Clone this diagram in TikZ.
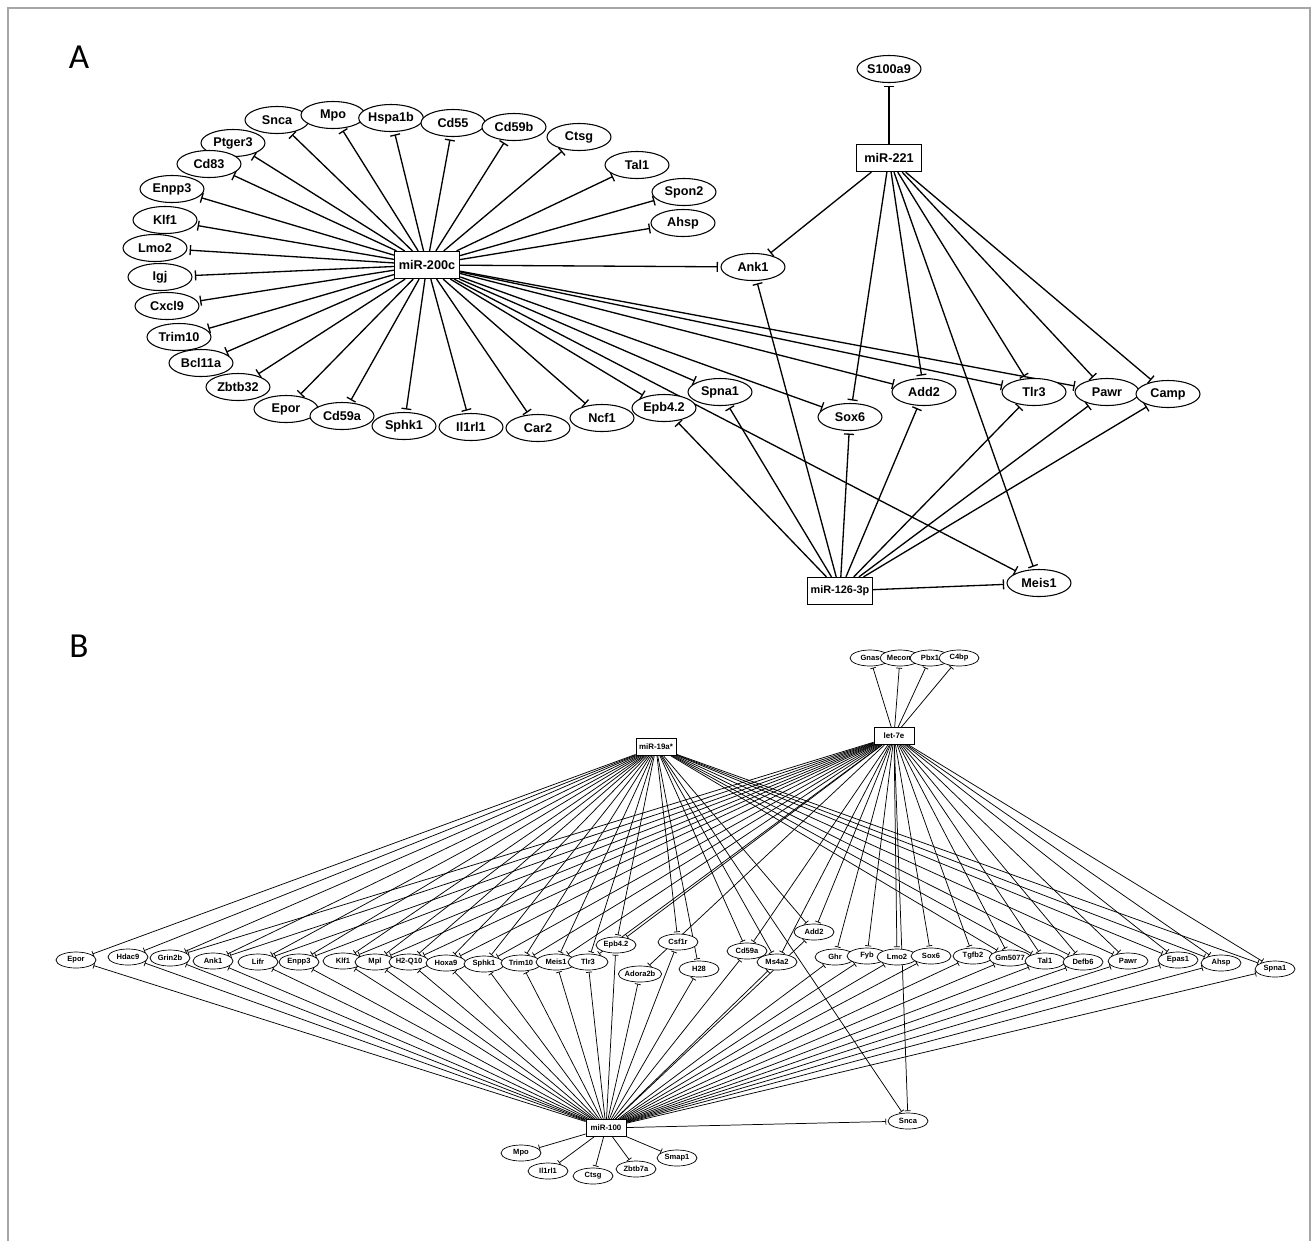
\documentclass[tikz,border=0pt]{standalone}
\usepackage{fontspec}
\setmainfont{Liberation Sans}
\newfontfamily\panelfont{Carlito}
\usetikzlibrary{arrows.meta,shapes.geometric,backgrounds}

\begin{document}
\begin{tikzpicture}[x=0.2mm,y=-0.2mm,
	gene/.style={draw,ellipse,fill=white,line width=0.6pt,inner sep=0pt,minimum width=12.8mm,minimum height=5.4mm,font=\fontsize{7.2}{8}\selectfont\bfseries},
	mir/.style={draw,rectangle,fill=white,line width=0.7pt,inner sep=0pt,minimum width=13mm,minimum height=5.4mm,font=\fontsize{7.2}{8}\selectfont\bfseries},
	sgene/.style={gene,line width=0.4pt,minimum width=8mm,minimum height=3.2mm,font=\fontsize{4.3}{5}\selectfont\bfseries},
	smir/.style={mir,line width=0.45pt,minimum width=8mm,minimum height=3.4mm,font=\fontsize{4.5}{5}\selectfont\bfseries},
	inh/.style={-{Bar[width=2mm]},line width=0.75pt,shorten >=0.5mm},
	sinh/.style={-{Bar[width=1.2mm]},line width=0.42pt,shorten >=0.3mm},
	panel/.style={font=\panelfont\fontsize{20}{20}\selectfont}]
	\useasboundingbox (0,0) rectangle (1315,1241);
	\draw[gray!70,line width=0.45mm] (8,1241) -- (8,8) -- (1310,8) -- (1310,1241);
	\node[panel] (labA) at (79,57) {A};
	\node[panel] (labB) at (79,646) {B};

	\node[mir] (m200) at (427,265) {miR-200c};
	\node[mir] (m221) at (889,158) {miR-221};
	\node[mir,font=\fontsize{6.2}{7}\selectfont\bfseries] (m126) at (840,591) {miR-126-3p};
	\node[gene] (aS100a9) at (889,69) {S100a9};
	\node[gene] (aSnca) at (277,120) {Snca};
	\node[gene] (aMpo) at (333,115) {Mpo};
	\node[gene] (aHspa1b) at (391,118) {Hspa1b};
	\node[gene] (aCd55) at (453,123) {Cd55};
	\node[gene] (aCd59b) at (514,127) {Cd59b};
	\node[gene] (aCtsg) at (579,137) {Ctsg};
	\node[gene] (aPtger3) at (233,143) {Ptger3};
	\node[gene] (aCd83) at (209,164) {Cd83};
	\node[gene] (aTal1) at (637,165) {Tal1};
	\node[gene] (aSpon2) at (684,192) {Spon2};
	\node[gene] (aAhsp) at (683,223) {Ahsp};
	\node[gene] (aEnpp3) at (172,189) {Enpp3};
	\node[gene] (aKlf1) at (165,220) {Klf1};
	\node[gene] (aLmo2) at (155,248) {Lmo2};
	\node[gene] (aIgj) at (160,277) {Igj};
	\node[gene] (aCxcl9) at (167,306) {Cxcl9};
	\node[gene] (aTrim10) at (179,337) {Trim10};
	\node[gene] (aBcl11a) at (201,363) {Bcl11a};
	\node[gene] (aZbtb32) at (238,387) {Zbtb32};
	\node[gene] (aEpor) at (286,409) {Epor};
	\node[gene] (aCd59a) at (342,416) {Cd59a};
	\node[gene] (aSphk1) at (404,426) {Sphk1};
	\node[gene] (aIl1rl1) at (471,427) {Il1rl1};
	\node[gene] (aCar2) at (538,428) {Car2};
	\node[gene] (aNcf1) at (602,418) {Ncf1};
	\node[gene] (aEpb) at (664,408) {Epb4.2};
	\node[gene] (aAnk1) at (753,267) {Ank1};
	\node[gene] (aSpna1) at (720,392) {Spna1};
	\node[gene] (aSox6) at (850,417) {Sox6};
	\node[gene] (aAdd2) at (924,392) {Add2};
	\node[gene] (aTlr3) at (1034,392) {Tlr3};
	\node[gene] (aPawr) at (1107,392) {Pawr};
	\node[gene] (aCamp) at (1168,394) {Camp};
	\node[gene] (aMeis1) at (1039,583) {Meis1};

	\node[smir] (m19) at (656,747) {miR-19a*};
	\node[smir] (let7e) at (894,736) {let-7e};
	\node[smir] (m100) at (606,1128) {miR-100};
	\node[sgene] (bGnas) at (870,658) {Gnas};
	\node[sgene] (bMecom) at (900,658) {Mecom};
	\node[sgene] (bPbx1) at (930,658) {Pbx1};
	\node[sgene] (bC4bp) at (959,658) {C4bp};
	\node[sgene] (bEpor) at (76,960) {Epor};
	\node[sgene] (bHdac9) at (128,957) {Hdac9};
	\node[sgene] (bGrin2b) at (170,958) {Grin2b};
	\node[sgene] (bAnk1) at (213,961) {Ank1};
	\node[sgene] (bLifr) at (258,962) {Lifr};
	\node[sgene] (bEnpp3) at (299,962) {Enpp3};
	\node[sgene] (bKlf1) at (343,961) {Klf1};
	\node[sgene] (bMpl) at (375,962) {Mpl};
	\node[sgene] (bH2Q10) at (409,962) {H2-Q10};
	\node[sgene] (bHoxa9) at (446,963) {Hoxa9};
	\node[sgene] (bSphk1) at (484,964) {Sphk1};
	\node[sgene] (bTrim10) at (521,963) {Trim10};
	\node[sgene] (bMeis1) at (556,962) {Meis1};
	\node[sgene] (bTlr3) at (588,962) {Tlr3};
	\node[sgene] (bEpb) at (616,945) {Epb4.2};
	\node[sgene] (bCsf1r) at (678,942) {Csf1r};
	\node[sgene] (bAdora2b) at (640,974) {Adora2b};
	\node[sgene] (bH28) at (699,969) {H28};
	\node[sgene] (bCd59a) at (747,951) {Cd59a};
	\node[sgene] (bMs4a2) at (777,962) {Ms4a2};
	\node[sgene] (bAdd2) at (814,932) {Add2};
	\node[sgene] (bGhr) at (835,957) {Ghr};
	\node[sgene] (bFyb) at (867,956) {Fyb};
	\node[sgene] (bLmo2) at (897,957) {Lmo2};
	\node[sgene] (bSox6) at (931,956) {Sox6};
	\node[sgene] (bTgfb2) at (973,956) {Tgfb2};
	\node[sgene] (bGm5077) at (1010,958) {Gm5077};
	\node[sgene] (bTal1) at (1045,961) {Tal1};
	\node[sgene] (bDefb6) at (1083,962) {Defb6};
	\node[sgene] (bPawr) at (1128,961) {Pawr};
	\node[sgene] (bEpas1) at (1178,960) {Epas1};
	\node[sgene] (bAhsp) at (1221,963) {Ahsp};
	\node[sgene] (bSpna1) at (1275,969) {Spna1};
	\node[sgene] (bSnca) at (908,1121) {Snca};
	\node[sgene] (bMpo) at (521,1153) {Mpo};
	\node[sgene] (bIl1rl1) at (548,1171) {Il1rl1};
	\node[sgene] (bCtsg) at (593,1176) {Ctsg};
	\node[sgene] (bZbtb7a) at (636,1169) {Zbtb7a};
	\node[sgene] (bSmap1) at (677,1158) {Smap1};

	\begin{scope}[on background layer]
		\foreach \t in {aSnca,aMpo,aHspa1b,aCd55,aCd59b,aCtsg,aPtger3,aCd83,aTal1,aSpon2,aAhsp,aEnpp3,aKlf1,aLmo2,aIgj,aCxcl9,aTrim10,aBcl11a,aZbtb32,aEpor,aCd59a,aSphk1,aIl1rl1,aCar2,aNcf1,aEpb,aAnk1,aSpna1,aSox6,aAdd2,aTlr3,aPawr,aMeis1}
			\draw[inh] (m200) -- (\t);
		\foreach \t in {aS100a9,aAnk1,aSox6,aAdd2,aTlr3,aPawr,aCamp,aMeis1}
			\draw[inh] (m221) -- (\t);
		\foreach \t in {aAnk1,aEpb,aSpna1,aSox6,aAdd2,aTlr3,aPawr,aCamp,aMeis1}
			\draw[inh] (m126) -- (\t);
		\foreach \t in {bEpor,bHdac9,bGrin2b,bAnk1,bLifr,bEnpp3,bKlf1,bMpl,bH2Q10,bHoxa9,bSphk1,bTrim10,bMeis1,bTlr3,bEpb,bCsf1r,bH28,bCd59a,bMs4a2,bAdd2,bSnca,bGm5077,bTal1,bDefb6,bPawr,bEpas1,bAhsp,bSpna1}
			\draw[sinh] (m19) -- (\t);
		\foreach \t in {bGnas,bMecom,bPbx1,bC4bp,bGrin2b,bAnk1,bLifr,bEnpp3,bKlf1,bMpl,bH2Q10,bHoxa9,bSphk1,bTrim10,bMeis1,bTlr3,bEpb,bAdora2b,bCd59a,bMs4a2,bAdd2,bGhr,bFyb,bLmo2,bSox6,bTgfb2,bGm5077,bTal1,bDefb6,bPawr,bEpas1,bAhsp,bSpna1,bSnca}
			\draw[sinh] (let7e) -- (\t);
		\foreach \t in {bEpor,bHdac9,bGrin2b,bAnk1,bLifr,bEnpp3,bKlf1,bMpl,bH2Q10,bHoxa9,bSphk1,bTrim10,bMeis1,bTlr3,bEpb,bCsf1r,bAdora2b,bH28,bCd59a,bMs4a2,bAdd2,bGhr,bFyb,bLmo2,bSox6,bTgfb2,bGm5077,bTal1,bDefb6,bPawr,bEpas1,bAhsp,bSpna1,bSnca,bMpo,bIl1rl1,bCtsg,bZbtb7a,bSmap1}
			\draw[sinh] (m100) -- (\t);
	\end{scope}
\end{tikzpicture}
\end{document}
